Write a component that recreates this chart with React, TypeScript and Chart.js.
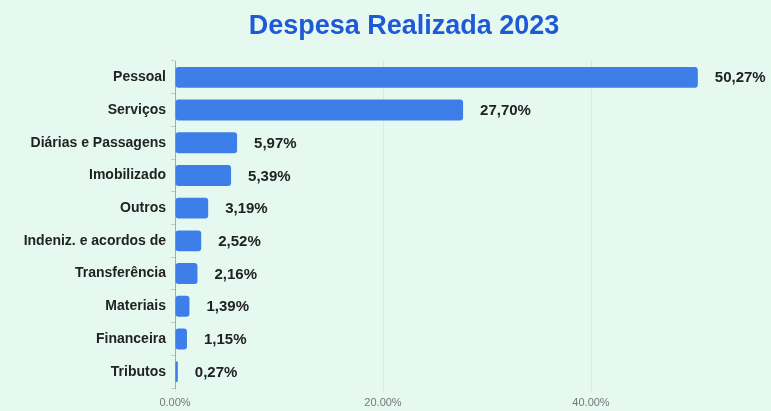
import React, { useEffect, useRef } from "react";
import { Chart, registerables } from "chart.js";

Chart.register(...registerables);

const TITLE = "Despesa Realizada 2023";
const categories = [
  "Pessoal",
  "Serviços",
  "Diárias e Passagens",
  "Imobilizado",
  "Outros",
  "Indeniz. e acordos de",
  "Transferência",
  "Materiais",
  "Financeira",
  "Tributos",
];
const values = [50.27, 27.7, 5.97, 5.39, 3.19, 2.52, 2.16, 1.39, 1.15, 0.27];
const xTicks = [0, 20, 40];

const FONT = "'Liberation Sans', Arial, Helvetica, sans-serif";
const BG = "#e5f9f1";

const fmtComma = (v: number) => v.toFixed(2).replace(".", ",") + "%";

const titlePlugin = {
  id: "customTitle",
  afterDraw(chart: any) {
    const ctx = chart.ctx;
    ctx.save();
    ctx.font = `bold 27px ${FONT}`;
    ctx.fillStyle = "#1f5ad4";
    ctx.textAlign = "center";
    ctx.textBaseline = "alphabetic";
    ctx.fillText(TITLE, 404, 34);
    ctx.restore();
  },
};

const valueLabelPlugin = {
  id: "valueLabels",
  afterDatasetsDraw(chart: any) {
    const ctx = chart.ctx;
    const meta = chart.getDatasetMeta(0);
    ctx.save();
    ctx.font = `bold 15px ${FONT}`;
    ctx.fillStyle = "#222222";
    ctx.textAlign = "left";
    ctx.textBaseline = "middle";
    meta.data.forEach((bar: any, i: number) => {
      ctx.fillText(fmtComma(values[i]), bar.x + 17, bar.y + 1);
    });
    ctx.restore();
  },
};

export default function App() {
  const ref = useRef<HTMLCanvasElement | null>(null);

  useEffect(() => {
    document.body.style.margin = "0";
    document.body.style.background = BG;
    const chart = new Chart(ref.current as HTMLCanvasElement, {
      type: "bar",
      data: {
        labels: categories,
        datasets: [
          {
            data: values,
            backgroundColor: "#3d7ee9",
            borderRadius: 3,
            borderSkipped: false,
            barPercentage: 0.8,
            categoryPercentage: 0.8,
          },
        ],
      },
      options: {
        indexAxis: "y",
        animation: false,
        responsive: false,
        maintainAspectRatio: false,
        layout: { padding: { top: 61, right: 24, left: 0, bottom: 0 } },
        plugins: {
          legend: { display: false },
          title: { display: false },
          tooltip: { enabled: false },
        },
        scales: {
          x: {
            min: 0,
            max: 55,
            afterFit: (scale: any) => {
              scale.height = 23;
            },
            afterBuildTicks: (scale: any) => {
              scale.ticks = xTicks.map((v) => ({ value: v }));
            },
            border: { display: false },
            grid: {
              color: "rgba(0,0,0,0.06)",
              drawTicks: true,
              tickLength: 4,
            },
            ticks: {
              padding: 4,
              color: "#777777",
              font: { family: FONT, size: 11 },
              callback: (v: any) => Number(v).toFixed(2) + "%",
            },
          },
          y: {
            afterFit: (scale: any) => {
              scale.width = 175;
            },
            border: { display: true, color: "#a8a8a8", width: 1 },
            grid: {
              drawOnChartArea: false,
              drawTicks: true,
              tickLength: 4,
              color: "#c8c8c8",
            },
            ticks: {
              padding: 5,
              color: "#222222",
              font: { family: FONT, size: 14, weight: "bold" },
            },
          },
        },
      },
      plugins: [titlePlugin, valueLabelPlugin],
    } as any);
    return () => chart.destroy();
  }, []);

  return (
    <div
      style={{
        position: "fixed",
        left: 0,
        top: 0,
        width: 771,
        height: 411,
        background: BG,
      }}
    >
      <canvas ref={ref} width={771} height={411} style={{ display: "block" }} />
    </div>
  );
}
